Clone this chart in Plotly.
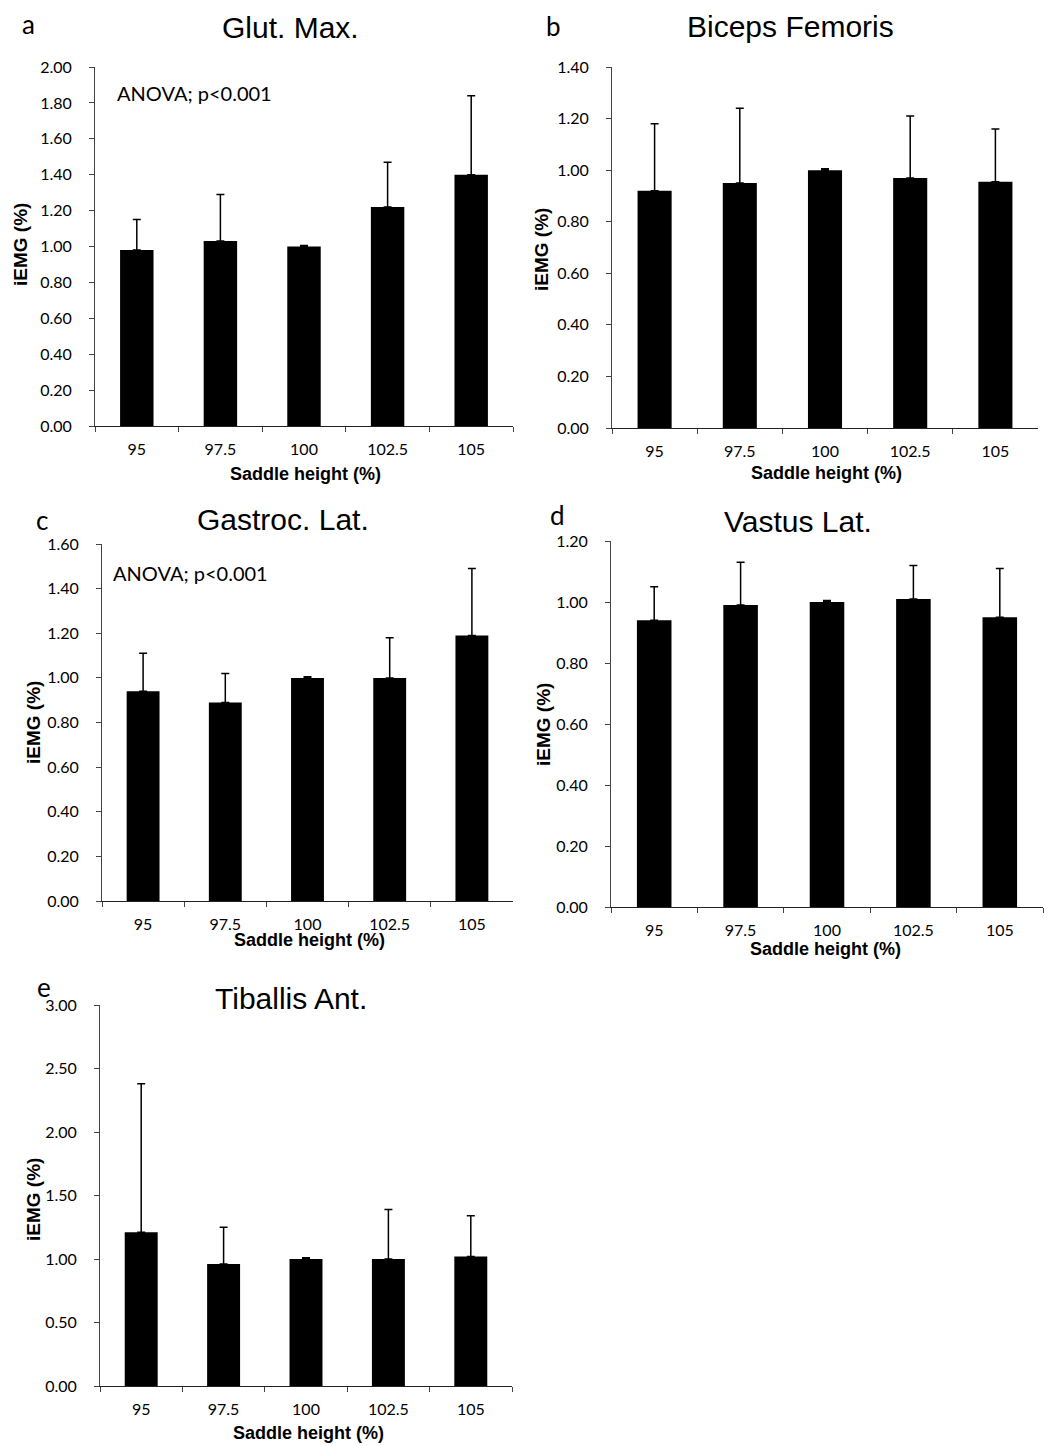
import plotly.graph_objects as go

# ---------------- data ----------------
saddle_heights = ["95", "97.5", "100", "102.5", "105"]

panel_letters = ["a", "b", "c", "d", "e"]
muscle_titles = ["Glut. Max.", "Biceps Femoris", "Gastroc. Lat.", "Vastus Lat.", "Tiballis Ant."]

glut_max_mean = [0.98, 1.03, 1.00, 1.22, 1.40]
glut_max_upper = [1.15, 1.29, 1.005, 1.47, 1.84]

biceps_fem_mean = [0.92, 0.95, 1.00, 0.97, 0.955]
biceps_fem_upper = [1.18, 1.24, 1.005, 1.21, 1.16]

gastroc_lat_mean = [0.94, 0.89, 1.00, 1.00, 1.19]
gastroc_lat_upper = [1.11, 1.02, 1.005, 1.18, 1.49]

vastus_lat_mean = [0.94, 0.99, 1.00, 1.01, 0.95]
vastus_lat_upper = [1.05, 1.13, 1.005, 1.12, 1.11]

tib_ant_mean = [1.21, 0.96, 1.00, 1.00, 1.02]
tib_ant_upper = [2.38, 1.25, 1.01, 1.39, 1.34]

y_max = [2.0, 1.4, 1.6, 1.2, 3.0]
y_step = [0.2, 0.2, 0.2, 0.2, 0.5]
anova_text = ["ANOVA; p<0.001", None, "ANOVA; p<0.001", None, None]

means = [glut_max_mean, biceps_fem_mean, gastroc_lat_mean, vastus_lat_mean, tib_ant_mean]
uppers = [glut_max_upper, biceps_fem_upper, gastroc_lat_upper, vastus_lat_upper, tib_ant_upper]

# ---------------- layout geometry (pixels) ----------------
W, H = 1046, 1446
# (x0, x1, ytop, ybottom) of plot area
boxes = [
    (95, 513, 67, 426),
    (612, 1038, 67, 428),
    (102, 513, 544, 901),
    (611, 1043, 541, 907),
    (100, 512, 1005, 1386),
]
title_pos = [(290, 27), (790, 26), (283, 519), (798, 521), (291, 998)]
letter_pos = [(28, 24), (553, 26), (42, 520), (557, 515), (44, 987)]
xtitle_pos = [(305, 474), (826, 473), (309, 940), (825, 949), (308, 1433)]
ytitle_pos = [(20, 245), (541, 250), (33, 723), (543, 725), (33, 1200)]
anova_pos = [(115, 93), None, (111, 573), None, None]


def px(x):
    return x / W


def py(y):
    return 1 - y / H


fig = go.Figure()
annotations = []
layout_axes = {}

for i in range(5):
    n = "" if i == 0 else str(i + 1)
    xa, ya = "x" + n, "y" + n
    err_plus = [u - m for u, m in zip(uppers[i], means[i])]
    fig.add_trace(go.Bar(
        x=saddle_heights, y=means[i], xaxis=xa, yaxis=ya,
        marker=dict(color="black", line=dict(width=0)),
        error_y=dict(type="data", symmetric=False, array=err_plus,
                     arrayminus=[0] * 5, color="black", thickness=1.5, width=4),
        showlegend=False, hoverinfo="x+y",
    ))
    x0, x1, yt, yb = boxes[i]
    layout_axes["xaxis" + n] = dict(
        domain=[px(x0), px(x1)], anchor=ya, type="category", automargin=False,
        showline=True, linecolor="#222", linewidth=1.2,
        ticks="outside", tickson="boundaries", ticklen=5, tickcolor="#444",
        showgrid=False, zeroline=False, ticklabelstandoff=9,
        tickfont=dict(family="Lato", size=16, color="black"),
        fixedrange=True,
    )
    layout_axes["yaxis" + n] = dict(
        domain=[py(yb), py(yt)], anchor=xa, range=[0, y_max[i]], automargin=False,
        dtick=y_step[i], tick0=0, tickformat=".2f",
        showline=True, linecolor="#444", linewidth=1,
        ticks="outside", ticklen=5, tickcolor="#444",
        showgrid=False, zeroline=False, ticklabelstandoff=14,
        tickfont=dict(family="Lato", size=16, color="black"),
        fixedrange=True,
    )
    tx, ty = title_pos[i]
    annotations.append(dict(text=muscle_titles[i], x=px(tx), y=py(ty), xref="paper", yref="paper",
                            showarrow=False, xanchor="center", yanchor="middle",
                            font=dict(family="Liberation Sans", size=30, color="black")))
    lx, ly = letter_pos[i]
    annotations.append(dict(text=panel_letters[i], x=px(lx), y=py(ly), xref="paper", yref="paper",
                            showarrow=False, xanchor="center", yanchor="middle",
                            font=dict(family="Lato", size=26, color="black")))
    xtx, xty = xtitle_pos[i]
    annotations.append(dict(text="<b>Saddle height (%)</b>", x=px(xtx), y=py(xty), xref="paper", yref="paper",
                            showarrow=False, xanchor="center", yanchor="middle",
                            font=dict(family="Liberation Sans", size=18, color="black")))
    ytx, yty = ytitle_pos[i]
    annotations.append(dict(text="<b>iEMG (%)</b>", x=px(ytx), y=py(yty), xref="paper", yref="paper",
                            showarrow=False, xanchor="center", yanchor="middle", textangle=-90,
                            font=dict(family="Liberation Sans", size=19, color="black")))
    if anova_text[i]:
        ax, ay = anova_pos[i]
        annotations.append(dict(text=anova_text[i], x=px(ax), y=py(ay), xref="paper", yref="paper",
                                showarrow=False, xanchor="left", yanchor="middle",
                                font=dict(family="Lato", size=20, color="black")))

fig.update_layout(
    width=W, height=H,
    margin=dict(l=0, r=0, t=0, b=0, autoexpand=False),
    paper_bgcolor="white", plot_bgcolor="white",
    bargap=0.6,
    annotations=annotations,
    **layout_axes,
)

fig.write_html(
    "out.html",
    config={"displayModeBar": False},
    post_script="document.body.style.margin='0';document.body.style.padding='0';",
)
